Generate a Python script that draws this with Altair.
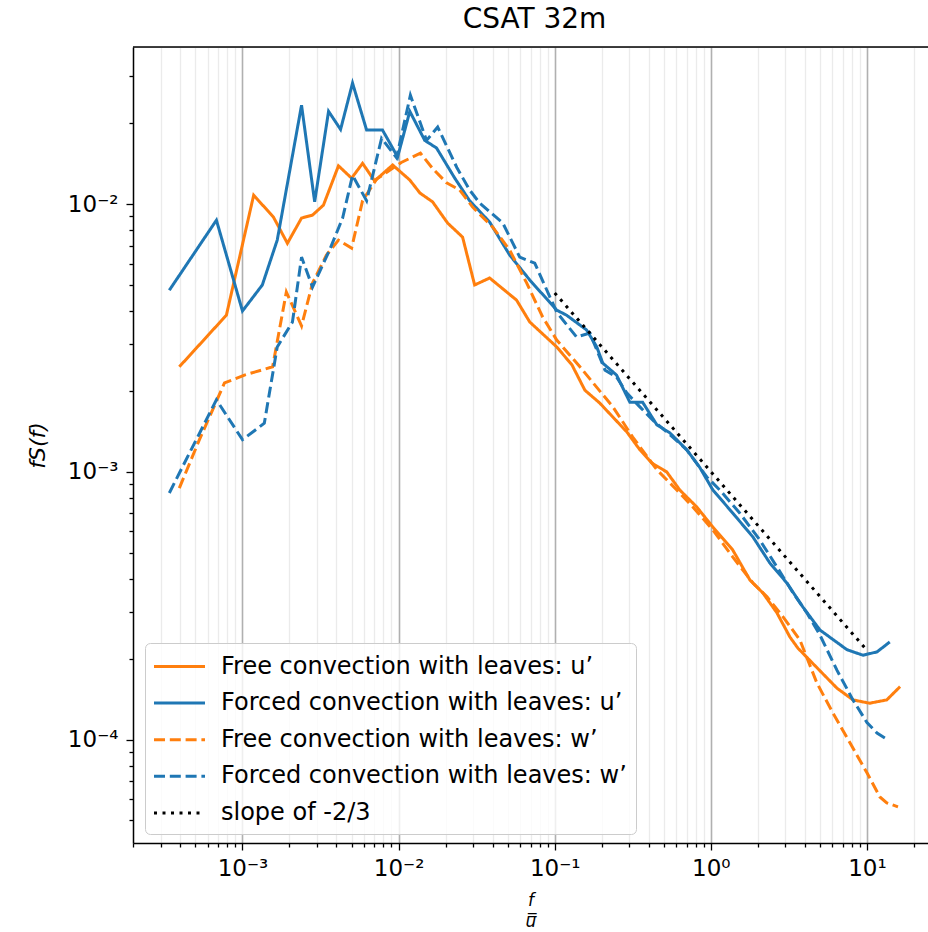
import altair as alt
import pandas as pd

# ---------------- data ----------------
FREE_U_X = [3.94e-4, 7.89e-4, 1.18e-3, 1.58e-3, 1.94e-3, 2.39e-3, 2.81e-3, 3.30e-3, 4.12e-3, 5.00e-3,
            5.88e-3, 7.02e-3, 9.16e-3, 1.18e-2, 1.37e-2, 1.65e-2, 2.06e-2, 2.57e-2, 3.07e-2, 3.83e-2,
            5.70e-2, 6.92e-2, 0.103, 0.129, 0.156, 0.194, 0.290, 0.351, 0.419, 0.522,
            0.632, 0.813, 1.03, 1.38, 1.78, 2.15, 2.65, 3.21, 3.61, 4.78,
            6.42, 8.13, 10.4, 13.4, 16.3]
FREE_U_Y = [2.47e-3, 3.85e-3, 1.08e-2, 8.94e-3, 7.14e-3, 8.87e-3, 9.10e-3, 9.91e-3, 1.39e-2, 1.25e-2,
            1.42e-2, 1.22e-2, 1.40e-2, 1.23e-2, 1.10e-2, 1.02e-2, 8.50e-3, 7.53e-3, 4.99e-3, 5.30e-3,
            4.38e-3, 3.63e-3, 2.93e-3, 2.51e-3, 2.02e-3, 1.81e-3, 1.41e-3, 1.21e-3, 1.08e-3, 1.00e-3,
            8.57e-4, 7.40e-4, 6.23e-4, 5.12e-4, 3.95e-4, 3.54e-4, 2.98e-4, 2.42e-4, 2.20e-4, 1.86e-4,
            1.56e-4, 1.41e-4, 1.37e-4, 1.41e-4, 1.58e-4]

FORCED_U_X = [3.40e-4, 6.81e-4, 1.00e-3, 1.34e-3, 1.67e-3, 2.39e-3, 2.90e-3, 3.56e-3, 4.25e-3, 5.07e-3,
              6.24e-3, 7.89e-3, 9.86e-3, 1.18e-2, 1.47e-2, 1.75e-2, 2.29e-2, 2.85e-2, 3.83e-2, 5.15e-2,
              6.92e-2, 0.103, 0.119, 0.160, 0.186, 0.203, 0.249, 0.303, 0.366, 0.451,
              0.546, 0.701, 0.849, 1.03, 1.38, 1.86, 2.39, 3.07, 3.89, 5.00,
              7.45, 9.43, 11.6, 14.0]
FORCED_U_Y = [4.77e-3, 8.71e-3, 3.99e-3, 4.99e-3, 7.34e-3, 2.34e-2, 1.02e-2, 2.22e-2, 1.90e-2, 2.83e-2,
              1.89e-2, 1.89e-2, 1.50e-2, 2.22e-2, 1.73e-2, 1.62e-2, 1.25e-2, 1.03e-2, 8.57e-3, 6.45e-3,
              5.21e-3, 4.02e-3, 3.85e-3, 3.39e-3, 2.93e-3, 2.55e-3, 2.30e-3, 1.82e-3, 1.82e-3, 1.50e-3,
              1.40e-3, 1.21e-3, 1.04e-3, 8.57e-4, 7.03e-4, 5.72e-4, 4.57e-4, 3.85e-4, 3.13e-4, 2.57e-4,
              2.17e-4, 2.07e-4, 2.13e-4, 2.32e-4]

FREE_W_X = [3.94e-4, 5.30e-4, 7.67e-4, 1.03e-3, 1.56e-3, 1.91e-3, 2.39e-3, 2.81e-3, 3.45e-3, 4.12e-3,
            5.00e-3, 5.88e-3, 7.23e-3, 8.63e-3, 1.04e-2, 1.38e-2, 1.65e-2, 2.03e-2, 2.46e-2, 2.98e-2,
            4.01e-2, 5.15e-2, 6.62e-2, 8.37e-2, 0.103, 0.145, 0.186, 0.236, 0.316, 0.451,
            0.605, 0.767, 1.03, 1.38, 1.86, 2.29, 2.90, 3.72, 4.78, 6.05,
            7.78, 10.0, 12.1, 13.4, 15.8]
FREE_W_Y = [8.71e-4, 1.32e-3, 2.15e-3, 2.30e-3, 2.47e-3, 4.70e-3, 3.51e-3, 5.07e-3, 6.45e-3, 7.34e-3,
            6.85e-3, 1.03e-2, 1.24e-2, 1.33e-2, 1.43e-2, 1.55e-2, 1.36e-2, 1.20e-2, 1.13e-2, 9.75e-3,
            8.20e-3, 6.73e-3, 5.07e-3, 3.79e-3, 3.11e-3, 2.47e-3, 2.07e-3, 1.75e-3, 1.35e-3, 1.02e-3,
            8.57e-4, 7.40e-4, 6.08e-4, 4.82e-4, 3.85e-4, 3.42e-4, 2.88e-4, 2.36e-4, 1.63e-4, 1.26e-4,
            9.75e-5, 7.53e-5, 6.12e-5, 5.82e-5, 5.62e-5]

FORCED_W_X = [3.40e-4, 6.81e-4, 1.00e-3, 1.38e-3, 1.67e-3, 2.09e-3, 2.39e-3, 2.81e-3, 3.61e-3, 4.38e-3,
              5.07e-3, 6.24e-3, 7.78e-3, 9.70e-3, 1.19e-2, 1.51e-2, 1.78e-2, 2.36e-2, 2.85e-2, 3.30e-2,
              4.65e-2, 5.97e-2, 7.45e-2, 0.103, 0.138, 0.168, 0.210, 0.249, 0.290, 0.351,
              0.425, 0.570, 0.701, 0.942, 1.14, 1.53, 2.06, 2.65, 3.36, 4.12,
              5.00, 6.42, 8.13, 10.0, 11.6, 13.6]
FORCED_W_Y = [8.35e-4, 1.86e-3, 1.32e-3, 1.52e-3, 2.93e-3, 3.63e-3, 6.34e-3, 4.90e-3, 6.73e-3, 8.87e-3,
              1.28e-2, 1.03e-2, 1.76e-2, 1.49e-2, 2.55e-2, 1.73e-2, 1.94e-2, 1.37e-2, 1.13e-2, 1.01e-2,
              8.50e-3, 6.34e-3, 6.02e-3, 3.95e-3, 3.19e-3, 3.30e-3, 2.40e-3, 2.26e-3, 1.97e-3, 1.75e-3,
              1.56e-3, 1.35e-3, 1.21e-3, 9.58e-4, 8.57e-4, 7.03e-4, 5.57e-4, 4.42e-4, 3.54e-4, 2.98e-4,
              2.46e-4, 1.82e-4, 1.41e-4, 1.16e-4, 1.06e-4, 1.00e-4]

SLOPE_X = [0.1, 10.0]
SLOPE_Y = [4.66e-3, 2.16e-4]

SERIES = ["Free convection with leaves: u\u2019",
          "Forced convection with leaves: u\u2019",
          "Free convection with leaves: w\u2019",
          "Forced convection with leaves: w\u2019",
          "slope of -2/3"]
COLORS = ["#ff7f0e", "#1f77b4", "#ff7f0e", "#1f77b4", "#000000"]
DASHES = [[1, 0], [1, 0], [11, 4.8], [11, 4.8], [3, 5.5]]

X_DOMAIN = [1.99e-4, 24.6]
Y_DOMAIN = [4.12e-5, 3.86e-2]

# ---------------- table ----------------
rows = []
for name, xs, ys in zip(SERIES,
                        [FREE_U_X, FORCED_U_X, FREE_W_X, FORCED_W_X, SLOPE_X],
                        [FREE_U_Y, FORCED_U_Y, FREE_W_Y, FORCED_W_Y, SLOPE_Y]):
    for i, (xv, yv) in enumerate(zip(xs, ys)):
        rows.append({"series": name, "x": xv, "y": yv, "i": i})
df = pd.DataFrame(rows)

# ---------------- tick values ----------------
def log_ticks(lo, hi):
    vals = []
    for d in range(-6, 3):
        for k in range(1, 10):
            v = float(f"{k}e{d}")
            if lo <= v <= hi:
                vals.append(v)
    return vals

XTICKS = log_ticks(*X_DOMAIN)
YTICKS = log_ticks(*Y_DOMAIN)

EXP = "round(log(datum.value)/LN10)"
IS_DEC = f"abs(log(datum.value)/LN10 - {EXP}) < 0.001"
SUP = {-4: "10\u207b\u2074", -3: "10\u207b\u00b3", -2: "10\u207b\u00b2", -1: "10\u207b\u00b9",
       0: "10\u2070", 1: "10\u00b9"}
lab = "''"
for e, s in SUP.items():
    lab = f"{EXP} == {e} ? '{s}' : ({lab})"
LABEL_EXPR = f"{IS_DEC} ? ({lab}) : ''"

FONT = "DejaVu Sans"

x_axis = alt.Axis(
    values=XTICKS, labelExpr=LABEL_EXPR, labelOverlap=False, labelFlush=False,
    grid=True,
    gridColor={"condition": {"test": IS_DEC, "value": "#b0b0b0"}, "value": "#ebebeb"},
    gridWidth={"condition": {"test": IS_DEC, "value": 1.6}, "value": 1.3},
    tickSize={"condition": {"test": IS_DEC, "value": 7}, "value": 4},
    tickColor="black", tickWidth=1.3,
    domainColor="black", domainWidth=1.5,
    labelFont=FONT, labelFontSize=23, labelColor="black", labelPadding=7,
    title=["f", "u\u033f"], titleFont=FONT, titleFontSize=17, titleFontStyle="italic",
    titleFontWeight="normal", titleColor="black", titlePadding=12, titleLineHeight=21,
)
y_axis = alt.Axis(
    values=YTICKS, labelExpr=LABEL_EXPR, labelOverlap=False, labelFlush=False,
    grid=False,
    tickSize={"condition": {"test": IS_DEC, "value": 7}, "value": 4},
    tickColor="black", tickWidth=1.3,
    domainColor="black", domainWidth=1.5,
    labelFont=FONT, labelFontSize=23, labelColor="black", labelPadding=8,
    title="fS(f)", titleFont=FONT, titleFontSize=22, titleFontStyle="italic",
    titleFontWeight="normal", titleColor="black", titlePadding=18,
)

x_scale = alt.Scale(type="log", domain=X_DOMAIN, nice=False)
y_scale = alt.Scale(type="log", domain=Y_DOMAIN, nice=False)

legend_props = dict(
    title=None, orient="none", legendX=12, legendY=596,
    symbolType="M-2,0H2", symbolSize=650, symbolStrokeWidth=3, symbolOffset=11,
    labelFont=FONT, labelFontSize=24, labelColor="black",
    labelOffset=27, rowPadding=9.6, padding=9,
    fillColor="rgba(255,255,255,0.8)", strokeColor="#cccccc",
    cornerRadius=5, labelLimit=600,
)

lines = alt.Chart(df).mark_line(strokeWidth=3, clip=True).encode(
    x=alt.X("x:Q", scale=x_scale, axis=x_axis),
    y=alt.Y("y:Q", scale=y_scale, axis=y_axis),
    color=alt.Color("series:N", scale=alt.Scale(domain=SERIES, range=COLORS),
                    legend=alt.Legend(**legend_props)),
    strokeDash=alt.StrokeDash("series:N", scale=alt.Scale(domain=SERIES, range=DASHES),
                              legend=alt.Legend(**legend_props)),
    order="i:Q",
)

top_border = alt.Chart(pd.DataFrame({"y": [Y_DOMAIN[1]]})).mark_rule(
    color="black", strokeWidth=1.5).encode(y=alt.Y("y:Q", scale=y_scale, axis=y_axis))

chart = alt.layer(lines, top_border).properties(
    width=795, height=796,
    title=alt.TitleParams("CSAT 32m", font=FONT, fontSize=28, fontWeight="normal",
                          color="black", anchor="middle", dx=4, offset=12),
    autosize=alt.AutoSizeParams(type="none"),
    padding={"left": 133, "top": 47, "right": 0, "bottom": 89},
).configure_view(stroke=None).configure(background="white")

chart.save("out.html", embed_options={"renderer": "svg", "actions": False})
